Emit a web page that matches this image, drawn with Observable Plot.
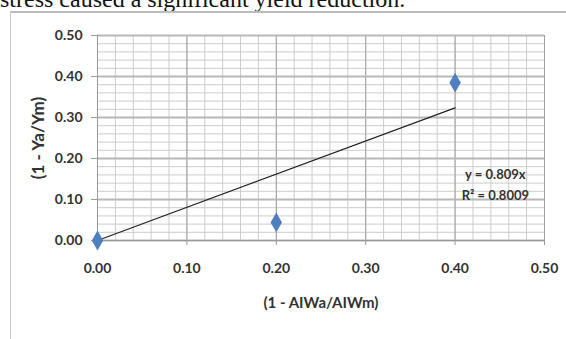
<!DOCTYPE html>
<html><head><meta charset="utf-8">
<script src="https://cdn.jsdelivr.net/npm/d3@7"></script>
<script src="https://cdn.jsdelivr.net/npm/@observablehq/plot@0.6"></script>
<style>
html,body{margin:0;padding:0;background:#fff;width:566px;height:339px;overflow:hidden;position:relative}
#top{position:absolute;left:0;top:-13px;font-family:"Liberation Serif","DejaVu Serif",serif;font-size:24px;color:#111;white-space:nowrap;line-height:24px}
#frame{position:absolute;left:10px;top:11px;width:600px;height:400px;border:1px solid #c8c8c8;border-top:2px solid #bdbdbd;box-sizing:border-box}
#chart{position:absolute;left:0;top:12px}
svg{font-family:Lato,"Open Sans",sans-serif}
</style></head>
<body>
<div id="top">stress caused a significant yield reduction.</div>
<div id="frame"></div>
<div id="chart"></div>
<script>
const xValues = [0.00, 0.20, 0.40];
const yValues = [0.00, 0.044, 0.385];
const slope = 0.809;
const r2 = 0.8009;
const tickValues = [0, 0.1, 0.2, 0.3, 0.4, 0.5];
const minorTicks = d3.range(0, 0.5001, 0.02);
const xTitle = "(1 - AIWa/AIWm)";
const yTitle = "(1 - Ya/Ym)";

const pts = xValues.map((x, i) => ({x, y: yValues[i]}));
const trend = [0, 0.4].map(x => ({x, y: slope * x}));
const fmt = d3.format(".2f");

const plot = Plot.plot({
  width: 566,
  height: 327,
  marginLeft: 97,
  marginRight: 22,
  marginTop: 23,
  marginBottom: 99,
  style: {background: "transparent"},
  x: {domain: [0, 0.5], label: null},
  y: {domain: [0, 0.5], label: null},
  marks: [
    Plot.gridX(minorTicks, {stroke: "#cccccc", strokeOpacity: 1, strokeWidth: 1}),
    Plot.gridY(minorTicks, {stroke: "#cccccc", strokeOpacity: 1, strokeWidth: 1}),
    Plot.gridX(tickValues, {stroke: "#a0a0a0", strokeOpacity: 1, strokeWidth: 1}),
    Plot.gridY(tickValues, {stroke: "#b8b8b8", strokeOpacity: 1, strokeWidth: 2}),
    Plot.axisX({ticks: tickValues, tickFormat: fmt, fill: "#333", stroke: "#999", fontWeight: "bold", fontSize: 14, tickSize: 5, tickPadding: 18, label: null}),
    Plot.axisY({ticks: tickValues, tickFormat: fmt, fill: "#333", stroke: "#999", fontWeight: "bold", fontSize: 14, tickSize: 6, tickPadding: 9, label: null}),
    Plot.ruleY([0], {stroke: "#999"}),
    Plot.ruleX([0], {stroke: "#999"}),
    Plot.line(trend, {x: "x", y: "y", stroke: "#222", strokeWidth: 1.2}),
    Plot.dot(pts, {x: "x", y: "y", symbol: "diamond", r: 6, fill: "#4f7fbf", stroke: "none"}),
    Plot.text([`y = ${slope}x`], {x: 0.445, y: 0.159, text: d => d, fontWeight: "bold", fontSize: 13, fill: "#333"}),
    Plot.text([`R² = ${r2}`], {x: 0.445, y: 0.110, text: d => d, fontWeight: "bold", fontSize: 13, fill: "#333"}),
    Plot.text([xTitle], {frameAnchor: "bottom", textAnchor: "middle", dx: 0, dy: 67, text: d => d, fontWeight: "bold", fontSize: 15, fill: "#333"}),
    Plot.text([yTitle], {frameAnchor: "left", textAnchor: "middle", dx: -59, dy: 0, rotate: -90, text: d => d, fontWeight: "bold", fontSize: 17, fill: "#333"})
  ]
});
document.getElementById("chart").appendChild(plot);
</script>
</body></html>
